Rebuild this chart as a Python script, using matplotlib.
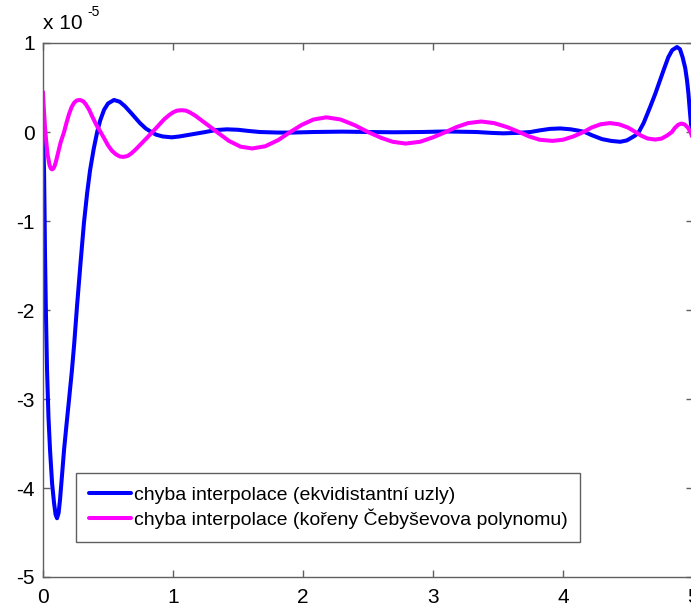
import matplotlib
matplotlib.use("Agg")
import matplotlib.pyplot as plt

plt.rcParams['font.family'] = ['Liberation Sans', 'DejaVu Sans']

# values in units of 1e-5
x_equi = [0.0, 0.004, 0.008, 0.012, 0.015, 0.022, 0.031, 0.042, 0.054, 0.07, 0.085, 0.097,
          0.108, 0.12, 0.131, 0.145, 0.162, 0.18, 0.2, 0.223, 0.24, 0.262, 0.29, 0.315,
          0.34, 0.362, 0.39, 0.4167, 0.44, 0.47, 0.5, 0.546, 0.59, 0.63, 0.68, 0.746, 0.79,
          0.8333, 0.87, 0.92, 0.99, 1.05, 1.09, 1.17, 1.25, 1.33, 1.415, 1.5, 1.58, 1.667,
          1.8, 1.9, 2.083, 2.3, 2.5, 2.7, 2.917, 3.1, 3.333, 3.45, 3.54, 3.65, 3.75, 3.82,
          3.9, 3.98, 4.06, 4.12, 4.167, 4.22, 4.3, 4.37, 4.44, 4.49, 4.52, 4.555, 4.583,
          4.62, 4.67, 4.71, 4.746, 4.78, 4.81, 4.84, 4.877, 4.9, 4.92, 4.94, 4.954, 4.965,
          4.975, 4.985, 5.0]
y_equi = [0.0, -0.2, -0.43, -0.9, -1.33, -2.0, -2.67, -3.2, -3.57, -3.95, -4.17, -4.3,
          -4.34, -4.28, -4.13, -3.88, -3.57, -3.3, -3.01, -2.67, -2.38, -1.95, -1.45, -1.02,
          -0.68, -0.43, -0.19, 0.0, 0.13, 0.25, 0.32, 0.36, 0.34, 0.29, 0.21, 0.10, 0.04,
          0.0, -0.03, -0.05, -0.06, -0.05, -0.04, -0.02, 0.0, 0.022, 0.03, 0.025, 0.012, 0.0,
          -0.006, -0.007, 0.0, 0.004, 0.0, -0.003, 0.0, 0.006, 0.0, -0.01, -0.015, -0.01, 0.0, 0.018,
          0.035, 0.04, 0.03, 0.015, 0.0, -0.035, -0.08, -0.1, -0.11, -0.095, -0.07, -0.04, 0.0,
          0.1, 0.28, 0.43, 0.58, 0.72, 0.84, 0.92, 0.955, 0.93, 0.84, 0.72, 0.58, 0.43,
          0.25, 0.08, 0.0]

x_cheb = [0.0, 0.005, 0.009, 0.018, 0.027, 0.035, 0.05, 0.06, 0.07, 0.08, 0.09, 0.1, 0.115,
          0.135, 0.162, 0.18, 0.2, 0.22, 0.24, 0.26, 0.285, 0.31, 0.33, 0.355, 0.38, 0.41,
          0.443, 0.47, 0.5, 0.53, 0.56, 0.59, 0.617, 0.65, 0.68, 0.71, 0.75, 0.8, 0.842,
          0.88, 0.93, 0.97, 1.0, 1.03, 1.065, 1.1, 1.13, 1.17, 1.22, 1.28, 1.338,
          1.43, 1.52, 1.61, 1.71, 1.81, 1.902, 1.99, 2.08, 2.18, 2.29, 2.4, 2.5,
          2.6, 2.69, 2.79, 2.9, 3.0, 3.098, 3.18, 3.27, 3.37, 3.47, 3.57, 3.662,
          3.74, 3.82, 3.92, 4.0, 4.08, 4.158, 4.22, 4.29, 4.36, 4.43, 4.5, 4.557,
          4.6, 4.65, 4.71, 4.76, 4.8, 4.838, 4.86, 4.885, 4.91, 4.935, 4.96, 4.982,
          4.99, 5.0]
y_cheb = [0.45, 0.3, 0.2, 0.0, -0.14, -0.25, -0.37, -0.41, -0.42, -0.41, -0.38, -0.33, -0.24,
          -0.12, 0.0, 0.1, 0.2, 0.28, 0.33, 0.355, 0.36, 0.345, 0.31, 0.25, 0.17, 0.08,
          0.0, -0.07, -0.15, -0.21, -0.25, -0.275, -0.28, -0.27, -0.24, -0.2, -0.14, -0.065, 0.0,
          0.06, 0.14, 0.19, 0.22, 0.24, 0.245, 0.24, 0.22, 0.185, 0.13, 0.065, 0.0,
          -0.1, -0.165, -0.185, -0.16, -0.09, 0.0, 0.08, 0.14, 0.165, 0.14, 0.075, 0.0,
          -0.065, -0.11, -0.13, -0.11, -0.06, 0.0, 0.055, 0.1, 0.118, 0.1, 0.055, 0.0,
          -0.05, -0.087, -0.1, -0.087, -0.05, 0.0, 0.05, 0.087, 0.1, 0.087, 0.05, 0.0,
          -0.04, -0.073, -0.085, -0.073, -0.04, 0.0, 0.045, 0.08, 0.095, 0.085, 0.05, 0.0,
          -0.04, -0.08]

labels = ['chyba interpolace (ekvidistantní uzly)',
          'chyba interpolace (kořeny Čebyševova polynomu)']
x_ticks = [0, 1, 2, 3, 4, 5]
y_ticks = [-5, -4, -3, -2, -1, 0, 1]

W, H = 691, 604
fig = plt.figure(figsize=(W / 100, H / 100), dpi=100)
ax = fig.add_axes([43 / W, (H - 577) / H, 650 / W, 534 / H])

ax.plot(x_equi, y_equi, color='#0000FF', lw=2.9, label=labels[0],
        solid_joinstyle='round', solid_capstyle='round')
ax.plot(x_cheb, y_cheb, color='#FF00FF', lw=2.9, label=labels[1],
        solid_joinstyle='round', solid_capstyle='round')

ax.set_xlim(0, 5)
ax.set_ylim(-5, 1)
ax.set_xticks(x_ticks)
ax.set_yticks(y_ticks)
ax.set_xticklabels([str(t) for t in x_ticks])
ax.set_yticklabels([str(t) for t in y_ticks])
for s in ax.spines.values():
    s.set_color('#606060')
    s.set_linewidth(1.0)
ax.tick_params(direction='in', length=5, width=1, color='#606060', labelsize=15,
               top=True, right=True, labelcolor='black')
ax.tick_params(axis='x', pad=8)
ax.tick_params(axis='y', pad=6)

ax.text(0.0, 1.018, 'x 10', transform=ax.transAxes, fontsize=15, ha='left', va='bottom')
ax.text(0.068, 1.045, '-5', transform=ax.transAxes, fontsize=10, ha='left', va='bottom')

leg = ax.legend(loc='lower left', bbox_to_anchor=(0.0508, 0.0655), borderaxespad=0,
                fontsize=14, handlelength=2.15, handletextpad=0.15, borderpad=0.66,
                labelspacing=0.25, fancybox=False, framealpha=1)
leg.get_frame().set_edgecolor('#606060')
leg.get_frame().set_linewidth(1.0)

fig.savefig('out.png', dpi=100)
